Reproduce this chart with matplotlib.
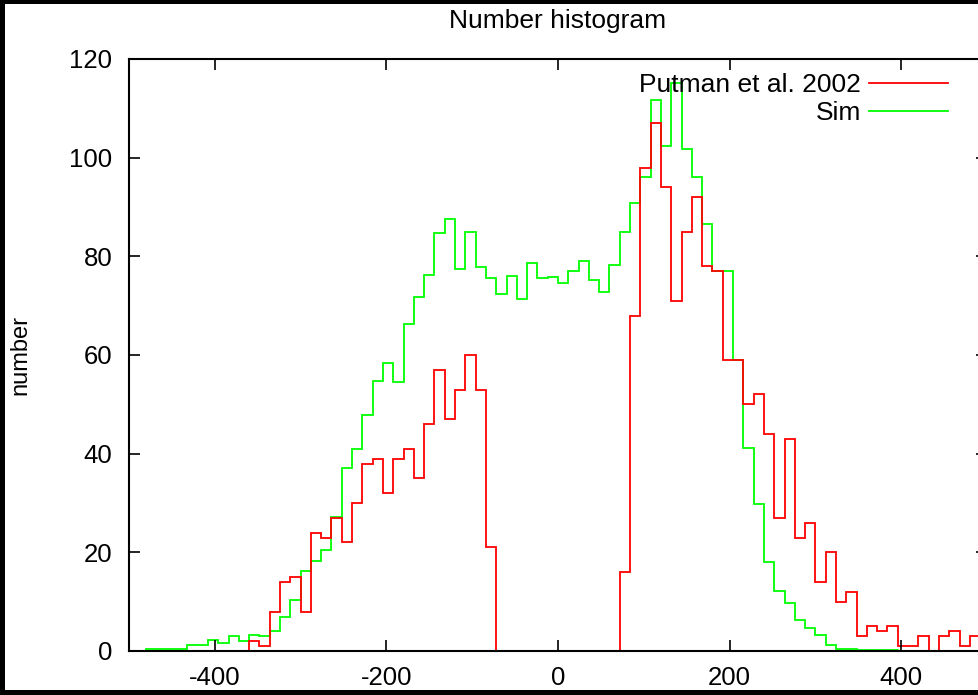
import numpy as np
import matplotlib.pyplot as plt
from matplotlib.patches import Rectangle
from matplotlib.lines import Line2D

plt.rcParams['font.family'] = ['Liberation Sans', 'DejaVu Sans']
plt.rcParams['axes.unicode_minus'] = False

# 12 km/s bins from -480 to 492
bin_edges = np.arange(-480, 493, 12)

putman = [0, 0, 0, 0, 0, 0, 0, 0, 0, 0,
          2, 1, 8, 14, 15, 8, 24, 23, 27, 22,
          30, 38, 39, 32, 39, 41, 35, 46, 57, 47,
          53, 60, 53, 21,
          0, 0, 0, 0, 0, 0, 0, 0, 0, 0, 0, 0,
          16, 68, 98, 107, 94, 71, 85, 92, 78, 77,
          59, 59, 50, 52, 44, 27, 43, 23, 26, 14,
          20, 10, 12, 3, 5, 4, 5, 1, 1, 3,
          0, 3, 4, 1, 3]

sim = [0.4, 0.4, 0.5, 0.4, 1.2, 1.3, 2.2, 1.7, 3.1, 2.0,
       3.3, 3.0, 4.1, 6.9, 10.3, 16.3, 18.2, 20.4, 27.2, 37.0,
       40.9, 47.9, 54.8, 58.4, 54.6, 66.3, 71.7, 76.3, 84.7, 87.5,
       77.4, 84.9, 77.9, 75.7, 72.4, 76.1, 71.4, 78.6, 75.7, 75.9,
       74.6, 77.1, 79.1, 75.3, 72.8, 78.2, 85.0, 90.9, 96.0, 111.6,
       102.4, 115.1, 101.8, 96.0, 86.6, 77.1, 77.1, 59.0, 41.2, 29.8,
       18.0, 12.2, 9.8, 6.3, 4.7, 3.2, 1.3, 0.5, 0.4, 0.2,
       0.3, 0.2, 0.3,
       0, 0, 0, 0, 0, 0, 0, 0]

W, H = 979, 695
fig = plt.figure(figsize=(W / 100, H / 100), dpi=100, facecolor='white')
# black frame on left, top and bottom of the screenshot
for x0, y0, w, h in [(0, 0, 5, H), (0, H - 4, W, 4), (0, 0, W, 5)]:
    fig.patches.append(Rectangle((x0 / W, y0 / H), w / W, h / H,
                                 transform=fig.transFigure, facecolor='black',
                                 edgecolor='none', zorder=10))

# axes run past the right edge of the image, as in the original
ax = fig.add_axes([129 / W, 44 / H, 858 / W, 592 / H])
ax.stairs(sim, bin_edges, color='#00ff00', lw=1.3)
ax.stairs(putman, bin_edges, color='#ff0000', lw=1.3)

ax.set_xlim(-500, 500)
ax.set_ylim(0, 120)
ax.set_xticks([-400, -200, 0, 200, 400])
ax.set_yticks(range(0, 121, 20))
ax.tick_params(direction='in', length=8, width=1.2, top=True, right=True,
               labelsize=18.5)
ax.tick_params(axis='x', pad=10.5)
ax.tick_params(axis='y', pad=12)
for s in ax.spines.values():
    s.set_linewidth(1.5)

ax.set_title('Number histogram', fontsize=19, pad=22)
ax.set_ylabel('number', fontsize=17)
ax.yaxis.set_label_coords(-0.114, 0.5)

handles = [Line2D([], [], color='#ff0000', lw=1.3),
           Line2D([], [], color='#00ff00', lw=1.3)]
ax.legend(handles, ['Putman et al. 2002', 'Sim'], loc='upper right',
          bbox_to_anchor=(948 / W, (H - 73) / H), bbox_transform=fig.transFigure,
          frameon=False, markerfirst=False, fontsize=19, handlelength=3.0,
          handletextpad=0.3, labelspacing=0.15, borderaxespad=0, borderpad=0)

fig.savefig('out.png', dpi=100)
